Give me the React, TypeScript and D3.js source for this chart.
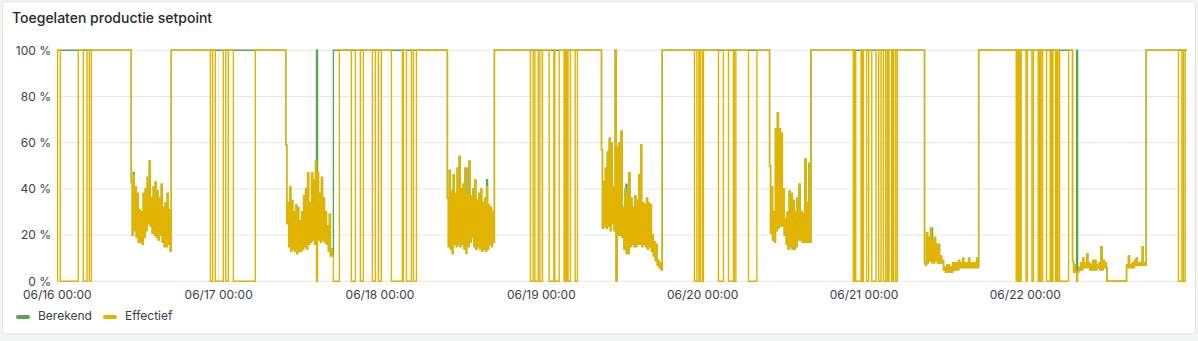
import React from "react";
import * as d3 from "d3";

const W = 1198;
const H = 341;

const titleText = "Toegelaten productie setpoint";
const seriesNames = ["Berekend", "Effectief"];
const seriesColors = ["#56A64B", "#E0B400"];
const yTickValues = [0, 20, 40, 60, 80, 100];
const xTickLabels = ["06/16 00:00", "06/17 00:00", "06/18 00:00", "06/19 00:00", "06/20 00:00", "06/21 00:00", "06/22 00:00"];
const xTickHours = [0, 24, 48, 72, 96, 120, 144];
const hourDomain = [0, 168];

// Effectief: step transitions (hours since 06/16 00:00, percent), outside the noisy blocks
const effectiefSteps: [number, number][] = [
  [0, 0], [0.05, 100], [0.45, 0], [3.12, 100], [3.87, 0], [4.42, 100], [4.76, 0], [5.06, 100],
  [16.96, 100], [22.77, 0], [23.12, 100], [23.51, 0], [24.7, 100], [25.06, 0], [25.44, 100], [26.19, 0], [29.46, 100],
  [41.07, 0], [41.96, 100], [43.74, 0], [44.34, 100], [45.08, 0], [45.53, 100], [46.87, 0], [47.31, 100], [47.76, 0],
  [48.21, 100], [49.7, 0], [51.33, 100], [51.4, 0], [51.48, 100], [51.93, 0], [52.67, 100], [52.97, 0], [53.42, 100],
  [65.02, 100], [70.38, 0], [70.78, 100], [71.04, 0], [71.53, 100], [71.78, 0], [72.17, 100], [73.17, 0], [73.86, 100],
  [74.01, 0], [74.65, 100], [75.39, 0], [75.5, 100], [75.6, 0], [75.7, 100], [75.8, 0], [75.9, 100], [75.98, 0],
  [76.33, 100], [77.03, 0], [77.37, 100],
  [89.98, 100], [94.78, 0], [95.14, 100], [95.44, 0], [95.63, 100], [95.93, 0], [96.12, 100], [98.35, 0], [99.09, 100],
  [99.84, 0], [100.58, 100], [100.7, 0], [100.94, 100], [102.82, 0], [104.07, 100],
  [112.1, 100], [118.41, 0], [118.5, 100], [118.6, 0], [118.68, 100], [118.77, 0], [119.56, 100], [119.65, 0],
  [119.74, 100], [119.82, 0], [119.9, 100], [120.4, 0], [120.7, 100], [121.15, 0], [121.79, 100], [122.19, 0],
  [122.53, 100], [122.88, 0], [123.23, 100], [123.47, 0], [123.55, 100], [123.64, 0], [123.72, 100], [124.12, 0],
  [124.2, 100], [124.3, 0], [124.42, 100], [124.72, 0], [124.96, 100],
  [137.05, 100], [142.64, 0], [142.73, 100], [142.82, 0], [142.91, 100], [143.0, 0], [143.1, 100], [143.19, 0],
  [143.38, 100], [144.13, 0], [144.28, 100], [144.98, 0], [145.21, 100], [145.91, 0], [146.11, 100], [146.32, 0],
  [146.56, 100], [147.15, 0], [147.7, 100], [147.8, 0], [147.9, 100], [148.0, 0], [148.1, 100], [148.49, 0],
  [148.6, 100], [148.72, 0], [148.85, 100], [149.09, 0], [150.43, 100],
  [156.14, 0],
  [161.98, 100], [166.78, 0], [167.29, 100], [167.52, 0], [167.78, 100], [168, 100],
];

// Berekend: step points outside the noisy blocks
const berekendSteps: [number, number][] = [
  [0, 100], [16.96, 100], [41.07, 100], [65.02, 100], [89.98, 100], [112.1, 100], [137.05, 100],
  [156.14, 0], [161.98, 100], [168, 100],
];

// Noisy midday blocks [start hour, end hour]
const blockSpans: [number, number][] = [
  [11.01, 16.96], [33.98, 41.07], [58.03, 65.02], [80.95, 89.98],
  [105.95, 112.1], [129.0, 137.05], [151.02, 156.14], [159.05, 161.98],
];

// values inside each block (alternating high / low readings, percent)
const block1 = [43, 20, 46, 22, 41, 19, 38, 17, 31, 17, 30, 16, 38, 19, 40, 22, 45, 25, 52, 24, 36, 21, 41, 20, 43, 19, 39, 18, 36, 20, 42, 17, 32, 15, 34, 15, 38, 16, 31, 13];
const block2 = [59, 25, 34, 15, 41, 13, 35, 14, 30, 13, 33, 12, 32, 13, 26, 13, 30, 14, 37, 15, 40, 14, 47, 16, 34, 17, 47, 18, 44, 16, 52, 17, 47, 18, 38, 17, 45, 18, 36, 17, 30, 16, 24, 13, 29, 11, 14, 11];
const block3 = [36, 15, 48, 14, 39, 12, 46, 16, 38, 15, 49, 16, 54, 15, 40, 16, 42, 14, 49, 12, 38, 15, 52, 17, 37, 19, 40, 15, 44, 14, 35, 15, 38, 14, 40, 13, 34, 14, 36, 13, 41, 14, 33, 16, 32, 15, 30, 17];
const block4 = [57, 23, 43, 24, 49, 23, 56, 24, 62, 22, 60, 25, 41, 22, 100, 0, 58, 20, 60, 20, 65, 19, 32, 14, 40, 12, 37, 12, 47, 15, 36, 16, 32, 15, 37, 15, 35, 16, 46, 16, 59, 15, 34, 16, 33, 15, 36, 14, 34, 15, 33, 13, 20, 11, 17, 9, 16, 7, 9, 6, 8, 5];
const block5 = [50, 21, 41, 18, 30, 17, 66, 22, 73, 23, 66, 24, 64, 24, 40, 20, 27, 16, 30, 14, 39, 15, 38, 14, 35, 14, 30, 15, 36, 18, 42, 18, 30, 17, 29, 17, 53, 17, 34, 17, 51, 17];
const block6 = [8, 7, 21, 8, 19, 9, 23, 8, 18, 8, 19, 9, 16, 8, 16, 8, 11, 8, 9, 5, 6, 4, 7, 4, 7, 4, 6, 4, 8, 5, 8, 5, 8, 5, 9, 6, 8, 6, 10, 6, 8, 6, 8, 6, 10, 6, 8, 6, 8, 6, 8, 6, 10, 6];
const block7 = [8.5, 4, 7, 4, 7, 4, 6, 5, 8, 5, 10, 6, 8, 6, 12, 6, 8, 5, 7, 5, 9, 5, 9, 5, 7, 6, 8, 5, 15, 5, 9, 6, 8, 6];
const block8 = [7, 6, 11, 6, 7, 6, 8, 6, 9, 7, 10, 7, 8, 7, 8, 7, 15, 7, 8, 7];
const blockValues = [block1, block2, block3, block4, block5, block6, block7, block8];

// Readings where one series differs from the other inside a block
const berekendPeaks: [number, number][] = [
  [11.45, 47], [37.85, 47], [38.57, 100], [60.86, 49], [63.98, 44], [84.66, 42],
  [107.28, 55], [130.15, 23], [151.76, 100],
];
const effectiefDips: [number, number][] = [[38.57, 0], [151.76, 0]];

type Pt = { h: number; v: number };

function buildSeries(steps: [number, number][], overrides: [number, number][]): Pt[] {
  const pts: Pt[] = steps.map(([h, v]) => ({ h, v }));
  blockSpans.forEach(([s, e], bi) => {
    const vals = blockValues[bi].slice();
    const d = (e - s) / vals.length;
    overrides.forEach(([h, v]) => {
      if (h >= s && h < e) vals[Math.floor((h - s) / d)] = v;
    });
    vals.forEach((v, i) => pts.push({ h: s + i * d, v }));
  });
  pts.sort((a, b) => a.h - b.h);
  return pts;
}

const base = new Date(2024, 5, 16, 0, 0, 0).getTime();
const toDate = (h: number) => new Date(base + h * 3600 * 1000);

export default function App() {
  const left = 57.3;
  const right = 1186.7;
  const top = 50.3;
  const bottom = 281.3;

  const x = d3.scaleTime().domain(hourDomain.map(toDate)).range([left, right]);
  const y = d3.scaleLinear().domain([0, 100]).range([bottom, top]);

  const line = d3
    .line<Pt>()
    .x((d) => x(toDate(d.h)))
    .y((d) => y(d.v))
    .curve(d3.curveStepAfter);

  const berekend = buildSeries(berekendSteps, berekendPeaks);
  const effectief = buildSeries(effectiefSteps, effectiefDips);
  const paths = [line(berekend) || "", line(effectief) || ""];

  const font = "Inter, 'Noto Sans', sans-serif";
  const textCol = "#3b4148";

  return (
    <svg width={W} height={H} style={{ position: "absolute", left: 0, top: 0, display: "block" }} fontFamily={font}>
      <rect x={0} y={0} width={W} height={H} fill="#f4f5f5" />
      <rect x={2.5} y={1.5} width={1193} height={332.5} rx={3} fill="#ffffff" stroke="#e3e4e6" strokeWidth={1} />
      <text x={12} y={23} fontSize={14} fontWeight={500} fill="#24292e">{titleText}</text>

      <defs>
        <clipPath id="plotclip">
          <rect x={left - 1} y={top - 2} width={right - left + 2} height={bottom - top + 4} />
        </clipPath>
      </defs>

      {yTickValues.map((v) => (
        <g key={"y" + v}>
          <line x1={left} x2={right} y1={y(v)} y2={y(v)} stroke="#e6e6e7" strokeWidth={1} />
          <text x={51} y={y(v)} dy="0.35em" textAnchor="end" fontSize={12} fill={textCol}>{v + " %"}</text>
        </g>
      ))}
      {xTickHours.map((h, i) => (
        <g key={"x" + h}>
          <line x1={x(toDate(h))} x2={x(toDate(h))} y1={top} y2={bottom + 4} stroke="#e6e6e7" strokeWidth={1} />
          <text x={x(toDate(h))} y={299} textAnchor="middle" fontSize={12} fill={textCol}>{xTickLabels[i]}</text>
        </g>
      ))}

      <g clipPath="url(#plotclip)">
        {paths.map((p, i) => (
          <path key={seriesNames[i]} d={p} fill="none" stroke={seriesColors[i]} strokeWidth={1.4} />
        ))}
      </g>

      {seriesNames.map((n, i) => {
        const lx = i === 0 ? 16 : 103;
        return (
          <g key={"lg" + n}>
            <rect x={lx} y={315} width={14} height={4} rx={2} fill={seriesColors[i]} />
            <text x={lx + 22} y={320} fontSize={12} fill={textCol}>{n}</text>
          </g>
        );
      })}
    </svg>
  );
}
